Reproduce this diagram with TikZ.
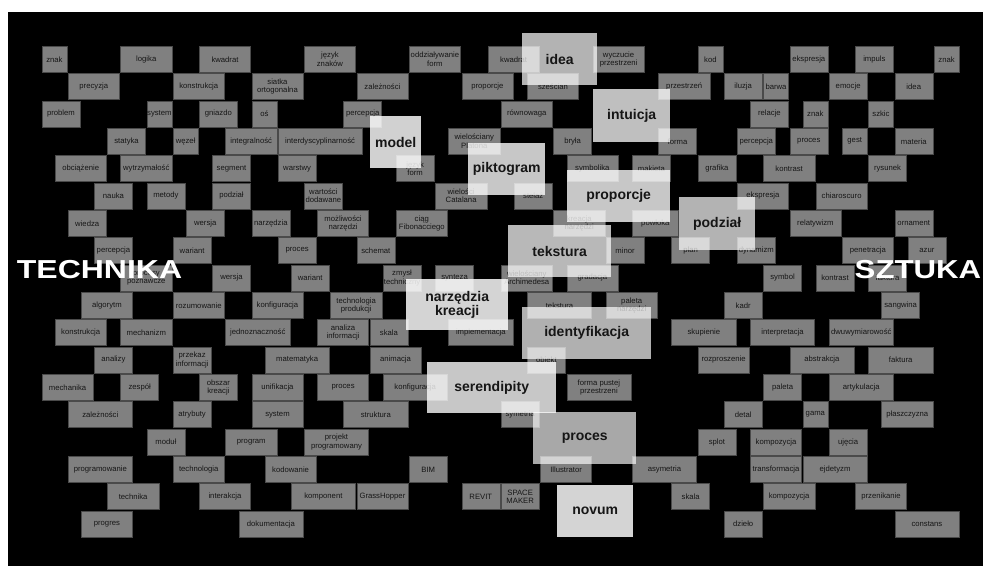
\documentclass[tikz,border=0pt]{standalone}
\usepackage{fontspec}
\setmainfont{Liberation Sans}
\definecolor{wordtext}{HTML}{161616}
\definecolor{boxedge}{HTML}{4A4A4A}

\begin{document}
\begin{tikzpicture}[x=1pt, y=-1pt,
  wbox/.style={anchor=north west, fill=white, fill opacity=0.5, text opacity=1, draw=boxedge, line width=0.5pt, text=wordtext, inner sep=0pt, minimum height=26pt, align=center, font=\fontsize{7.7}{8.4}\selectfont},
  w2/.style={minimum width=24.9pt}, w3/.style={minimum width=38pt},
  w4/.style={minimum width=51.2pt}, w5/.style={minimum width=64.3pt},
  bigbox/.style={anchor=north west, fill=white, fill opacity=#1, text opacity=1, text=wordtext, inner sep=0pt, align=center, font=\bfseries\fontsize{14}{14}\selectfont},
  title/.style={text=white, inner sep=0pt, font=\bfseries\fontsize{26}{26}\selectfont}]
\useasboundingbox (0,0) rectangle (983,566);
\fill[white] (0,0) rectangle (983,566);
\fill[black] (8,12) rectangle (983,566);

% small word boxes on the grid
\begin{scope}[shift={(41.7pt,-46pt)}, x=13.12pt, y=-27.34pt]
% row 0
\node[wbox,w2] (znak1) at (0,0) {znak};
\node[wbox,w4] (logika) at (6,0) {logika};
\node[wbox,w4] (kwadrat1) at (12,0) {kwadrat};
\node[wbox,w4] (jezyk) at (20,0) {język\\znaków};
\node[wbox,w4] (oddzialywanie) at (28,0) {oddziaływanie\\form};
\node[wbox,w4] (kwadrat2) at (34,0) {kwadrat};
\node[wbox,w4] (wyczucie) at (42,0) {wyczucie\\przestrzeni};
\node[wbox,w2] (kod) at (50,0) {kod};
\node[wbox,w3] (ekspresja1) at (57,0) {ekspresja};
\node[wbox,w3] (impuls) at (62,0) {impuls};
\node[wbox,w2] (znak2) at (68,0) {znak};
% row 1
\node[wbox,w4] (precyzja) at (2,1) {precyzja};
\node[wbox,w4] (konstrukcja1) at (10,1) {konstrukcja};
\node[wbox,w4] (siatka) at (16,1) {siatka\\ortogonalna};
\node[wbox,w4] (zaleznosci1) at (24,1) {zależności};
\node[wbox,w4] (proporcje1) at (32,1) {proporcje};
\node[wbox,w4] (szescian) at (37,1) {sześcian};
\node[wbox,w4] (przestrzen) at (47,1) {przestrzeń};
\node[wbox,w3] (iluzja) at (52,1) {iluzja};
\node[wbox,w2] (barwa) at (55,1) {barwa};
\node[wbox,w3] (emocje) at (60,1) {emocje};
\node[wbox,w3] (idea2) at (65,1) {idea};
% row 2
\node[wbox,w3] (problem) at (0,2) {problem};
\node[wbox,w2] (system1) at (8,2) {system};
\node[wbox,w3] (gniazdo) at (12,2) {gniazdo};
\node[wbox,w2] (os) at (16,2) {oś};
\node[wbox,w3] (percepcja1) at (23,2) {percepcja};
\node[wbox,w4] (rownowaga) at (35,2) {równowaga};
\node[wbox,w3] (relacje) at (54,2) {relacje};
\node[wbox,w2] (znak3) at (58,2) {znak};
\node[wbox,w2] (szkic) at (63,2) {szkic};
% row 3
\node[wbox,w3] (statyka) at (5,3) {statyka};
\node[wbox,w2] (wezel) at (10,3) {węzeł};
\node[wbox,w4] (integralnosc) at (14,3) {integralność};
\node[wbox,minimum width=84pt] (interdyscyplinarnosc) at (18,3) {interdyscyplinarność};
\node[wbox,w4] (platona) at (31,3) {wielościany\\Platona};
\node[wbox,w3] (bryla) at (39,3) {bryła};
\node[wbox,w3] (forma) at (47,3) {forma};
\node[wbox,w3] (percepcja2) at (53,3) {percepcja};
\node[wbox,w3] (proces1) at (57,3) {proces};
\node[wbox,w2] (gest) at (61,3) {gest};
\node[wbox,w3] (materia) at (65,3) {materia};
% row 4
\node[wbox,w4] (obciazenie) at (1,4) {obciążenie};
\node[wbox,w4] (wytrzymalosc) at (6,4) {wytrzymałość};
\node[wbox,w3] (segment) at (13,4) {segment};
\node[wbox,w3] (warstwy) at (18,4) {warstwy};
\node[wbox,w3] (jezykform) at (27,4) {język\\form};
\node[wbox,w4] (symbolika) at (40,4) {symbolika};
\node[wbox,w3] (makieta) at (45,4) {makieta};
\node[wbox,w3] (grafika) at (50,4) {grafika};
\node[wbox,w4] (kontrast1) at (55,4) {kontrast};
\node[wbox,w3] (rysunek) at (63,4) {rysunek};
% row 5
\node[wbox,w3] (nauka) at (4,5) {nauka};
\node[wbox,w3] (metody) at (8,5) {metody};
\node[wbox,w3] (podzial1) at (13,5) {podział};
\node[wbox,w3] (wartosci) at (20,5) {wartości\\dodawane};
\node[wbox,w4] (catalana) at (30,5) {wielości\\Catalana};
\node[wbox,w3] (stelaz) at (36,5) {stelaż};
\node[wbox,w4] (ekspresja2) at (53,5) {ekspresja};
\node[wbox,w4] (chiaroscuro) at (59,5) {chiaroscuro};
% row 6
\node[wbox,w3] (wiedza) at (2,6) {wiedza};
\node[wbox,w3] (wersja1) at (11,6) {wersja};
\node[wbox,w3] (narzedzia) at (16,6) {narzędzia};
\node[wbox,w4] (mozliwosci) at (21,6) {możliwości\\narzędzi};
\node[wbox,w4] (fibonacci) at (27,6) {ciąg\\Fibonacciego};
\node[wbox,w4] (kreacja) at (39,6) {kreacja\\narzędzi};
\node[wbox,minimum width=46pt] (powloka) at (45,6) {powłoka};
\node[wbox,w4] (relatywizm) at (57,6) {relatywizm};
\node[wbox,w3] (ornament) at (65,6) {ornament};
% row 7
\node[wbox,w3] (percepcja3) at (4,7) {percepcja};
\node[wbox,w3] (wariant1) at (10,7) {wariant};
\node[wbox,w3] (proces2) at (18,7) {proces};
\node[wbox,w3] (schemat) at (24,7) {schemat};
\node[wbox,w3] (minor) at (43,7) {minor};
\node[wbox,w3] (plan) at (48,7) {plan};
\node[wbox,w3] (dynamizm) at (53,7) {dynamizm};
\node[wbox,w4] (penetracja) at (61,7) {penetracja};
\node[wbox,w3] (azur) at (66,7) {azur};
% row 8
\node[wbox,w4] (poznawcze) at (6,8) {procesy\\poznawcze};
\node[wbox,w3] (wersja2) at (13,8) {wersja};
\node[wbox,w3] (wariant2) at (19,8) {wariant};
\node[wbox,w3] (zmysl) at (26,8) {zmysł\\techniczny};
\node[wbox,w3] (synteza) at (30,8) {synteza};
\node[wbox,w4] (archimedesa) at (35,8) {wielościany\\Archimedesa};
\node[wbox,w4] (gradacja) at (40,8) {gradacja};
\node[wbox,w3] (symbol) at (55,8) {symbol};
\node[wbox,w3] (kontrast2) at (59,8) {kontrast};
\node[wbox,w3] (faktura1) at (63,8) {faktura};
% row 9
\node[wbox,w4] (algorytm) at (3,9) {algorytm};
\node[wbox,w4] (rozumowanie) at (10,9) {rozumowanie};
\node[wbox,w4] (konfiguracja1) at (16,9) {konfiguracja};
\node[wbox,w4] (technologiaprod) at (22,9) {technologia\\produkcji};
\node[wbox,w5] (tekstura1) at (37,9) {tekstura};
\node[wbox,w4] (paleta1) at (43,9) {paleta\\narzędzi};
\node[wbox,w3] (kadr) at (52,9) {kadr};
\node[wbox,w3] (sangwina) at (64,9) {sangwina};
% row 10
\node[wbox,w4] (konstrukcja2) at (1,10) {konstrukcja};
\node[wbox,w4] (mechanizm) at (6,10) {mechanizm};
\node[wbox,w5] (jednoznacznosc) at (14,10) {jednoznaczność};
\node[wbox,w4] (analiza) at (21,10) {analiza\\informacji};
\node[wbox,w3] (skala1) at (25,10) {skala};
\node[wbox,w5] (implementacja) at (31,10) {implementacja};
\node[wbox,w5] (skupienie) at (48,10) {skupienie};
\node[wbox,w5] (interpretacja) at (54,10) {interpretacja};
\node[wbox,w5] (dwuwymiarowosc) at (60,10) {dwuwymiarowość};
% row 11
\node[wbox,w3] (analizy) at (4,11) {analizy};
\node[wbox,w3] (przekaz) at (10,11) {przekaz\\informacji};
\node[wbox,w5] (matematyka) at (17,11) {matematyka};
\node[wbox,w4] (animacja) at (25,11) {animacja};
\node[wbox,w3] (obiekt) at (37,11) {obiekt};
\node[wbox,w4] (rozproszenie) at (50,11) {rozproszenie};
\node[wbox,w5] (abstrakcja) at (57,11) {abstrakcja};
\node[wbox,w5] (faktura2) at (63,11) {faktura};
% row 12
\node[wbox,w4] (mechanika) at (0,12) {mechanika};
\node[wbox,w3] (zespol) at (6,12) {zespół};
\node[wbox,w3] (obszar) at (12,12) {obszar\\kreacji};
\node[wbox,w4] (unifikacja) at (16,12) {unifikacja};
\node[wbox,w4] (proces3) at (21,12) {proces};
\node[wbox,w5] (konfiguracja2) at (26,12) {konfiguracja};
\node[wbox,w5] (formapustej) at (40,12) {forma pustej\\przestrzeni};
\node[wbox,w3] (paleta2) at (55,12) {paleta};
\node[wbox,w5] (artykulacja) at (60,12) {artykulacja};
% row 13
\node[wbox,w5] (zaleznosci2) at (2,13) {zależności};
\node[wbox,w3] (atrybuty) at (10,13) {atrybuty};
\node[wbox,w4] (system2) at (16,13) {system};
\node[wbox,w5] (struktura) at (23,13) {struktura};
\node[wbox,w3] (symetria) at (35,13) {symetria};
\node[wbox,w3] (detal) at (52,13) {detal};
\node[wbox,w2] (gama) at (58,13) {gama};
\node[wbox,w4] (plaszczyzna) at (64,13) {płaszczyzna};
% row 14
\node[wbox,w3] (modul) at (8,14) {moduł};
\node[wbox,w4] (program) at (14,14) {program};
\node[wbox,w5] (projekt) at (20,14) {projekt\\programowany};
\node[wbox,w3] (splot) at (50,14) {splot};
\node[wbox,w4] (kompozycja1) at (54,14) {kompozycja};
\node[wbox,w3] (ujecia) at (60,14) {ujęcia};
% row 15
\node[wbox,w5] (programowanie) at (2,15) {programowanie};
\node[wbox,w4] (technologia) at (10,15) {technologia};
\node[wbox,w4] (kodowanie) at (17,15) {kodowanie};
\node[wbox,w3] (bim) at (28,15) {BIM};
\node[wbox,w4] (illustrator) at (38,15) {Illustrator};
\node[wbox,w5] (asymetria) at (45,15) {asymetria};
\node[wbox,w4] (transformacja) at (54,15) {transformacja};
\node[wbox,w5] (ejdetyzm) at (58,15) {ejdetyzm};
% row 16
\node[wbox,w4] (technika) at (5,16) {technika};
\node[wbox,w4] (interakcja) at (12,16) {interakcja};
\node[wbox,w5] (komponent) at (19,16) {komponent};
\node[wbox,w4] (grasshopper) at (24,16) {GrassHopper};
\node[wbox,w3] (revit) at (32,16) {REVIT};
\node[wbox,w3] (spacemaker) at (35,16) {SPACE\\MAKER};
\node[wbox,w3] (skala2) at (48,16) {skala};
\node[wbox,w4] (kompozycja2) at (55,16) {kompozycja};
\node[wbox,w4] (przenikanie) at (62,16) {przenikanie};
% row 17
\node[wbox,w4] (progres) at (3,17) {progres};
\node[wbox,w5] (dokumentacja) at (15,17) {dokumentacja};
\node[wbox,w3] (dzielo) at (52,17) {dzieło};
\node[wbox,w5] (constans) at (65,17) {constans};
\end{scope}

% large key words on top
\node[bigbox=0.7, minimum width=75pt, minimum height=52pt] (idea) at (522,33) {idea};
\node[bigbox=0.75, minimum width=77pt, minimum height=53pt] (intuicja) at (593,89) {intuicja};
\node[bigbox=0.82, minimum width=51pt, minimum height=52pt] (model) at (370,116) {model};
\node[bigbox=0.78, minimum width=77pt, minimum height=52pt] (piktogram) at (468,143) {piktogram};
\node[bigbox=0.78, minimum width=103pt, minimum height=52pt] (proporcje) at (567,170) {proporcje};
\node[bigbox=0.7, minimum width=76pt, minimum height=53pt] (podzial) at (679,197) {podział};
\node[bigbox=0.72, minimum width=103pt, minimum height=52pt] (tekstura) at (508,225) {tekstura};
\node[bigbox=0.83, minimum width=102pt, minimum height=51pt] (narzedzia-kreacji) at (406,279) {narzędzia\\kreacji};
\node[bigbox=0.69, minimum width=129pt, minimum height=52pt] (identyfikacja) at (522,307) {identyfikacja};
\node[bigbox=0.78, minimum width=129pt, minimum height=51pt] (serendipity) at (427,362) {serendipity};
\node[bigbox=0.66, minimum width=103pt, minimum height=52pt] (proces) at (533,412) {proces};
\node[bigbox=0.83, minimum width=76pt, minimum height=52pt] (novum) at (557,485) {novum};

% the two poles
\node[title] (title-technika) at (99.5,270) {\scalebox{1.23}[1]{TECHNIKA}};
\node[title] (title-sztuka) at (918,270) {\scalebox{1.2}[1]{SZTUKA}};
\end{tikzpicture}
\end{document}
